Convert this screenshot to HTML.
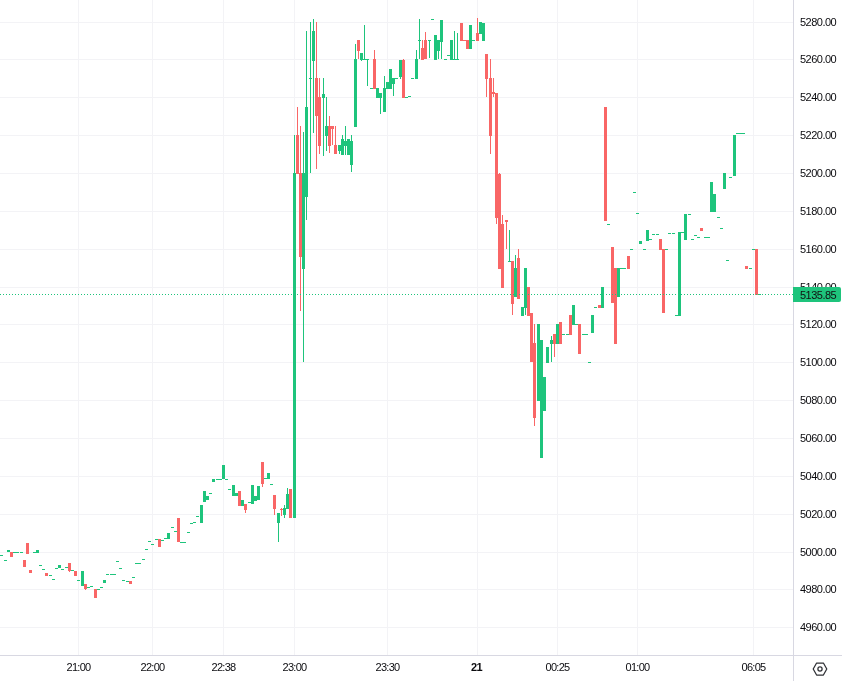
<!DOCTYPE html>
<html><head><meta charset="utf-8"><style>
html,body{-webkit-font-smoothing:antialiased;margin:0;padding:0;background:#fff;width:842px;height:681px;overflow:hidden;position:relative;font-family:"Liberation Sans",sans-serif;}
.pl{will-change:transform;letter-spacing:-0.52px;position:absolute;left:800.4px;width:40px;height:14px;line-height:14px;font-size:11px;color:#0b0b0f;white-space:nowrap}
.tl{will-change:transform;position:absolute;top:660px;width:61px;text-align:center;height:14px;line-height:14px;font-size:11px;color:#0b0b0f;letter-spacing:-0.7px;white-space:nowrap}
.b{font-weight:bold;letter-spacing:-0.5px}
.cp{position:absolute;left:793px;top:287px;width:48px;height:15px;background:#1ec47c;border-radius:0 2px 2px 0}
.cpt{will-change:transform;letter-spacing:-0.52px;position:absolute;left:800.4px;top:287.5px;height:15px;line-height:15px;font-size:11px;color:#111;white-space:nowrap}
</style></head><body>
<svg width="842" height="681" shape-rendering="crispEdges" style="position:absolute;left:0;top:0"><g fill="#f3f3f6"><rect x="0" y="22" width="793" height="1"/><rect x="0" y="59" width="793" height="1"/><rect x="0" y="97" width="793" height="1"/><rect x="0" y="135" width="793" height="1"/><rect x="0" y="173" width="793" height="1"/><rect x="0" y="211" width="793" height="1"/><rect x="0" y="249" width="793" height="1"/><rect x="0" y="287" width="793" height="1"/><rect x="0" y="324" width="793" height="1"/><rect x="0" y="362" width="793" height="1"/><rect x="0" y="400" width="793" height="1"/><rect x="0" y="438" width="793" height="1"/><rect x="0" y="476" width="793" height="1"/><rect x="0" y="514" width="793" height="1"/><rect x="0" y="552" width="793" height="1"/><rect x="0" y="589" width="793" height="1"/><rect x="0" y="627" width="793" height="1"/><rect x="78" y="0" width="1" height="655"/><rect x="152" y="0" width="1" height="655"/><rect x="223" y="0" width="1" height="655"/><rect x="294" y="0" width="1" height="655"/><rect x="387" y="0" width="1" height="655"/><rect x="477" y="0" width="1" height="655"/><rect x="557" y="0" width="1" height="655"/><rect x="637" y="0" width="1" height="655"/><rect x="753" y="0" width="1" height="655"/></g><g fill="#1ec47c"><rect x="0" y="555" width="3" height="1"/><rect x="4" y="560" width="3" height="1"/><rect x="7" y="550" width="3" height="2"/><rect x="13" y="552" width="3" height="1"/><rect x="16" y="552" width="3" height="1"/><rect x="20" y="552" width="3" height="1"/><rect x="33" y="552" width="3" height="1"/><rect x="36" y="550" width="3" height="3"/><rect x="39" y="565" width="3" height="1"/><rect x="42" y="569" width="3" height="1"/><rect x="49" y="575" width="3" height="1"/><rect x="52" y="579" width="3" height="1"/><rect x="55" y="568" width="3" height="1"/><rect x="58" y="565" width="3" height="3"/><rect x="61" y="569" width="3" height="1"/><rect x="65" y="567" width="3" height="1"/><rect x="71" y="570" width="3" height="1"/><rect x="77" y="580" width="3" height="1"/><rect x="81" y="571" width="3" height="15"/><rect x="87" y="587" width="3" height="1"/><rect x="90" y="586" width="3" height="1"/><rect x="97" y="589" width="3" height="1"/><rect x="100" y="587" width="3" height="1"/><rect x="103" y="580" width="3" height="3"/><rect x="106" y="574" width="3" height="1"/><rect x="110" y="574" width="3" height="1"/><rect x="113" y="574" width="3" height="1"/><rect x="116" y="561" width="3" height="1"/><rect x="119" y="568" width="3" height="1"/><rect x="122" y="580" width="3" height="1"/><rect x="126" y="581" width="3" height="1"/><rect x="132" y="577" width="3" height="1"/><rect x="135" y="563" width="3" height="1"/><rect x="138" y="563" width="3" height="1"/><rect x="142" y="559" width="3" height="1"/><rect x="145" y="549" width="3" height="1"/><rect x="148" y="541" width="3" height="1"/><rect x="151" y="544" width="3" height="1"/><rect x="155" y="539" width="3" height="1"/><rect x="161" y="540" width="3" height="1"/><rect x="164" y="538" width="3" height="1"/><rect x="167" y="533" width="3" height="6"/><rect x="171" y="527" width="3" height="1"/><rect x="174" y="531" width="3" height="1"/><rect x="180" y="542" width="3" height="1"/><rect x="183" y="542" width="3" height="1"/><rect x="187" y="532" width="3" height="1"/><rect x="190" y="523" width="3" height="1"/><rect x="193" y="522" width="3" height="1"/><rect x="196" y="516" width="3" height="1"/><rect x="200" y="505" width="3" height="18"/><rect x="203" y="491" width="3" height="11"/><rect x="206" y="496" width="3" height="4"/><rect x="209" y="493" width="3" height="1"/><rect x="212" y="479" width="3" height="3"/><rect x="216" y="479" width="3" height="1"/><rect x="219" y="479" width="3" height="1"/><rect x="222" y="465" width="3" height="14"/><rect x="225" y="479" width="3" height="1"/><rect x="228" y="489" width="3" height="1"/><rect x="232" y="485" width="3" height="11"/><rect x="235" y="493" width="3" height="3"/><rect x="241" y="500" width="3" height="6"/><rect x="248" y="502" width="3" height="1"/><rect x="251" y="485" width="3" height="19"/><rect x="254" y="496" width="3" height="5"/><rect x="257" y="486" width="3" height="14"/><rect x="264" y="478" width="3" height="1"/><rect x="267" y="473" width="3" height="6"/><rect x="270" y="484" width="3" height="1"/><rect x="277" y="513" width="3" height="10"/><rect x="278" y="523" width="1" height="19"/><rect x="283" y="508" width="3" height="7"/><rect x="284" y="505" width="1" height="3"/><rect x="284" y="515" width="1" height="3"/><rect x="286" y="494" width="3" height="15"/><rect x="287" y="488" width="1" height="6"/><rect x="293" y="173" width="3" height="345"/><rect x="294" y="135" width="1" height="38"/><rect x="302" y="173" width="3" height="96"/><rect x="303" y="132" width="1" height="41"/><rect x="303" y="269" width="1" height="93"/><rect x="305" y="107" width="3" height="90"/><rect x="306" y="31" width="1" height="76"/><rect x="306" y="197" width="1" height="23"/><rect x="309" y="78" width="3" height="1"/><rect x="310" y="22" width="1" height="56"/><rect x="310" y="79" width="1" height="94"/><rect x="312" y="31" width="3" height="30"/><rect x="313" y="19" width="1" height="12"/><rect x="313" y="61" width="1" height="72"/><rect x="322" y="94" width="3" height="4"/><rect x="323" y="78" width="1" height="16"/><rect x="323" y="98" width="1" height="58"/><rect x="325" y="126" width="3" height="10"/><rect x="326" y="97" width="1" height="29"/><rect x="326" y="136" width="1" height="15"/><rect x="338" y="145" width="3" height="6"/><rect x="339" y="151" width="1" height="3"/><rect x="341" y="139" width="3" height="16"/><rect x="342" y="135" width="1" height="4"/><rect x="344" y="141" width="3" height="5"/><rect x="345" y="126" width="1" height="15"/><rect x="345" y="146" width="1" height="9"/><rect x="347" y="139" width="3" height="16"/><rect x="350" y="141" width="3" height="24"/><rect x="351" y="135" width="1" height="6"/><rect x="351" y="165" width="1" height="7"/><rect x="354" y="59" width="3" height="68"/><rect x="355" y="44" width="1" height="15"/><rect x="360" y="53" width="3" height="7"/><rect x="361" y="60" width="1" height="1"/><rect x="363" y="59" width="3" height="1"/><rect x="364" y="25" width="1" height="34"/><rect x="366" y="59" width="3" height="1"/><rect x="367" y="60" width="1" height="26"/><rect x="370" y="88" width="3" height="1"/><rect x="376" y="88" width="3" height="10"/><rect x="379" y="93" width="3" height="5"/><rect x="380" y="98" width="1" height="16"/><rect x="383" y="88" width="3" height="24"/><rect x="384" y="76" width="1" height="12"/><rect x="386" y="82" width="3" height="7"/><rect x="389" y="69" width="3" height="20"/><rect x="392" y="78" width="3" height="6"/><rect x="393" y="84" width="1" height="12"/><rect x="395" y="78" width="3" height="1"/><rect x="399" y="60" width="3" height="17"/><rect x="400" y="77" width="1" height="2"/><rect x="405" y="97" width="3" height="1"/><rect x="408" y="96" width="3" height="1"/><rect x="411" y="78" width="3" height="1"/><rect x="415" y="59" width="3" height="20"/><rect x="416" y="50" width="1" height="9"/><rect x="418" y="40" width="3" height="1"/><rect x="419" y="19" width="1" height="21"/><rect x="419" y="41" width="1" height="18"/><rect x="428" y="40" width="3" height="1"/><rect x="429" y="41" width="1" height="17"/><rect x="431" y="19" width="3" height="1"/><rect x="434" y="35" width="3" height="25"/><rect x="437" y="40" width="3" height="11"/><rect x="438" y="51" width="1" height="8"/><rect x="440" y="20" width="3" height="22"/><rect x="441" y="42" width="1" height="17"/><rect x="444" y="59" width="3" height="1"/><rect x="447" y="55" width="3" height="1"/><rect x="450" y="40" width="3" height="20"/><rect x="453" y="59" width="3" height="1"/><rect x="454" y="31" width="1" height="28"/><rect x="456" y="59" width="3" height="1"/><rect x="457" y="33" width="1" height="26"/><rect x="469" y="25" width="3" height="24"/><rect x="472" y="40" width="3" height="1"/><rect x="479" y="22" width="3" height="12"/><rect x="482" y="23" width="3" height="18"/><rect x="508" y="261" width="3" height="1"/><rect x="509" y="230" width="1" height="31"/><rect x="514" y="268" width="3" height="29"/><rect x="515" y="255" width="1" height="13"/><rect x="521" y="307" width="3" height="9"/><rect x="524" y="268" width="3" height="40"/><rect x="525" y="308" width="1" height="7"/><rect x="537" y="324" width="3" height="77"/><rect x="540" y="340" width="3" height="118"/><rect x="543" y="377" width="3" height="34"/><rect x="546" y="347" width="3" height="16"/><rect x="550" y="340" width="3" height="4"/><rect x="551" y="336" width="1" height="4"/><rect x="551" y="344" width="1" height="18"/><rect x="556" y="324" width="3" height="20"/><rect x="562" y="334" width="3" height="1"/><rect x="566" y="334" width="3" height="1"/><rect x="572" y="305" width="3" height="20"/><rect x="575" y="324" width="3" height="1"/><rect x="582" y="334" width="3" height="1"/><rect x="585" y="334" width="3" height="1"/><rect x="588" y="362" width="3" height="1"/><rect x="591" y="315" width="3" height="18"/><rect x="594" y="307" width="3" height="1"/><rect x="601" y="287" width="3" height="21"/><rect x="607" y="224" width="3" height="1"/><rect x="617" y="268" width="3" height="29"/><rect x="620" y="268" width="3" height="1"/><rect x="623" y="268" width="3" height="1"/><rect x="630" y="249" width="3" height="1"/><rect x="633" y="192" width="3" height="1"/><rect x="636" y="213" width="3" height="1"/><rect x="639" y="241" width="3" height="3"/><rect x="643" y="249" width="3" height="1"/><rect x="646" y="230" width="3" height="11"/><rect x="649" y="239" width="3" height="1"/><rect x="652" y="234" width="3" height="1"/><rect x="656" y="234" width="3" height="1"/><rect x="665" y="249" width="3" height="1"/><rect x="668" y="233" width="3" height="1"/><rect x="672" y="233" width="3" height="1"/><rect x="675" y="315" width="3" height="1"/><rect x="678" y="232" width="3" height="84"/><rect x="681" y="232" width="3" height="1"/><rect x="684" y="214" width="3" height="26"/><rect x="688" y="214" width="3" height="1"/><rect x="691" y="239" width="3" height="1"/><rect x="694" y="235" width="3" height="1"/><rect x="697" y="237" width="3" height="1"/><rect x="704" y="237" width="3" height="1"/><rect x="707" y="237" width="3" height="1"/><rect x="710" y="182" width="3" height="30"/><rect x="713" y="194" width="3" height="18"/><rect x="717" y="217" width="3" height="1"/><rect x="720" y="228" width="3" height="1"/><rect x="723" y="173" width="3" height="16"/><rect x="726" y="260" width="3" height="1"/><rect x="729" y="177" width="3" height="1"/><rect x="733" y="135" width="3" height="41"/><rect x="736" y="133" width="3" height="1"/><rect x="739" y="133" width="3" height="1"/><rect x="742" y="133" width="3" height="1"/><rect x="749" y="268" width="3" height="1"/><rect x="752" y="249" width="3" height="1"/><rect x="758" y="294" width="3" height="1"/></g><g fill="#f96666"><rect x="10" y="552" width="3" height="5"/><rect x="23" y="560" width="3" height="7"/><rect x="26" y="543" width="3" height="11"/><rect x="29" y="570" width="3" height="3"/><rect x="45" y="573" width="3" height="3"/><rect x="68" y="563" width="3" height="8"/><rect x="69" y="571" width="1" height="1"/><rect x="74" y="571" width="3" height="5"/><rect x="84" y="584" width="3" height="5"/><rect x="85" y="589" width="1" height="1"/><rect x="94" y="589" width="3" height="9"/><rect x="129" y="581" width="3" height="3"/><rect x="158" y="539" width="3" height="8"/><rect x="177" y="518" width="3" height="24"/><rect x="238" y="491" width="3" height="15"/><rect x="244" y="504" width="3" height="6"/><rect x="245" y="510" width="1" height="3"/><rect x="261" y="462" width="3" height="22"/><rect x="262" y="484" width="1" height="3"/><rect x="273" y="495" width="3" height="14"/><rect x="274" y="509" width="1" height="6"/><rect x="280" y="509" width="3" height="1"/><rect x="281" y="508" width="1" height="1"/><rect x="281" y="510" width="1" height="6"/><rect x="289" y="489" width="3" height="29"/><rect x="296" y="135" width="3" height="39"/><rect x="297" y="107" width="1" height="28"/><rect x="299" y="173" width="3" height="84"/><rect x="300" y="126" width="1" height="47"/><rect x="300" y="257" width="1" height="54"/><rect x="315" y="78" width="3" height="38"/><rect x="316" y="22" width="1" height="56"/><rect x="316" y="116" width="1" height="53"/><rect x="318" y="97" width="3" height="49"/><rect x="319" y="78" width="1" height="19"/><rect x="319" y="146" width="1" height="8"/><rect x="328" y="126" width="3" height="20"/><rect x="329" y="116" width="1" height="10"/><rect x="329" y="146" width="1" height="7"/><rect x="331" y="126" width="3" height="3"/><rect x="332" y="129" width="1" height="16"/><rect x="334" y="145" width="3" height="9"/><rect x="335" y="126" width="1" height="19"/><rect x="357" y="40" width="3" height="11"/><rect x="358" y="51" width="1" height="8"/><rect x="373" y="59" width="3" height="30"/><rect x="374" y="50" width="1" height="9"/><rect x="402" y="60" width="3" height="38"/><rect x="403" y="59" width="1" height="1"/><rect x="421" y="48" width="3" height="12"/><rect x="422" y="40" width="1" height="8"/><rect x="424" y="40" width="3" height="19"/><rect x="425" y="32" width="1" height="8"/><rect x="460" y="23" width="3" height="18"/><rect x="463" y="40" width="3" height="1"/><rect x="466" y="40" width="3" height="9"/><rect x="476" y="33" width="3" height="8"/><rect x="477" y="18" width="1" height="15"/><rect x="485" y="54" width="3" height="25"/><rect x="486" y="79" width="1" height="18"/><rect x="489" y="78" width="3" height="58"/><rect x="490" y="59" width="1" height="19"/><rect x="490" y="136" width="1" height="18"/><rect x="492" y="92" width="3" height="2"/><rect x="493" y="78" width="1" height="14"/><rect x="493" y="94" width="1" height="3"/><rect x="495" y="93" width="3" height="125"/><rect x="496" y="218" width="1" height="6"/><rect x="498" y="174" width="3" height="95"/><rect x="499" y="173" width="1" height="1"/><rect x="501" y="224" width="3" height="64"/><rect x="502" y="215" width="1" height="9"/><rect x="505" y="220" width="3" height="2"/><rect x="506" y="222" width="1" height="27"/><rect x="511" y="261" width="3" height="43"/><rect x="512" y="304" width="1" height="11"/><rect x="517" y="258" width="3" height="41"/><rect x="518" y="249" width="1" height="9"/><rect x="527" y="287" width="3" height="29"/><rect x="530" y="313" width="3" height="49"/><rect x="533" y="343" width="3" height="75"/><rect x="534" y="324" width="1" height="19"/><rect x="534" y="418" width="1" height="8"/><rect x="553" y="334" width="3" height="10"/><rect x="554" y="344" width="1" height="13"/><rect x="559" y="322" width="3" height="22"/><rect x="569" y="315" width="3" height="20"/><rect x="578" y="324" width="3" height="30"/><rect x="598" y="305" width="3" height="3"/><rect x="604" y="107" width="3" height="114"/><rect x="611" y="247" width="3" height="56"/><rect x="614" y="268" width="3" height="76"/><rect x="627" y="256" width="3" height="13"/><rect x="659" y="239" width="3" height="11"/><rect x="662" y="249" width="3" height="64"/><rect x="700" y="228" width="3" height="3"/><rect x="745" y="266" width="3" height="3"/><rect x="755" y="249" width="3" height="46"/></g><g fill="#1ec47c"><rect x="0" y="294" width="1" height="1"/><rect x="3" y="294" width="1" height="1"/><rect x="6" y="294" width="1" height="1"/><rect x="9" y="294" width="1" height="1"/><rect x="12" y="294" width="1" height="1"/><rect x="15" y="294" width="1" height="1"/><rect x="18" y="294" width="1" height="1"/><rect x="21" y="294" width="1" height="1"/><rect x="24" y="294" width="1" height="1"/><rect x="27" y="294" width="1" height="1"/><rect x="30" y="294" width="1" height="1"/><rect x="33" y="294" width="1" height="1"/><rect x="36" y="294" width="1" height="1"/><rect x="39" y="294" width="1" height="1"/><rect x="42" y="294" width="1" height="1"/><rect x="45" y="294" width="1" height="1"/><rect x="48" y="294" width="1" height="1"/><rect x="51" y="294" width="1" height="1"/><rect x="54" y="294" width="1" height="1"/><rect x="57" y="294" width="1" height="1"/><rect x="60" y="294" width="1" height="1"/><rect x="63" y="294" width="1" height="1"/><rect x="66" y="294" width="1" height="1"/><rect x="69" y="294" width="1" height="1"/><rect x="72" y="294" width="1" height="1"/><rect x="75" y="294" width="1" height="1"/><rect x="78" y="294" width="1" height="1"/><rect x="81" y="294" width="1" height="1"/><rect x="84" y="294" width="1" height="1"/><rect x="87" y="294" width="1" height="1"/><rect x="90" y="294" width="1" height="1"/><rect x="93" y="294" width="1" height="1"/><rect x="96" y="294" width="1" height="1"/><rect x="99" y="294" width="1" height="1"/><rect x="102" y="294" width="1" height="1"/><rect x="105" y="294" width="1" height="1"/><rect x="108" y="294" width="1" height="1"/><rect x="111" y="294" width="1" height="1"/><rect x="114" y="294" width="1" height="1"/><rect x="117" y="294" width="1" height="1"/><rect x="120" y="294" width="1" height="1"/><rect x="123" y="294" width="1" height="1"/><rect x="126" y="294" width="1" height="1"/><rect x="129" y="294" width="1" height="1"/><rect x="132" y="294" width="1" height="1"/><rect x="135" y="294" width="1" height="1"/><rect x="138" y="294" width="1" height="1"/><rect x="141" y="294" width="1" height="1"/><rect x="144" y="294" width="1" height="1"/><rect x="147" y="294" width="1" height="1"/><rect x="150" y="294" width="1" height="1"/><rect x="153" y="294" width="1" height="1"/><rect x="156" y="294" width="1" height="1"/><rect x="159" y="294" width="1" height="1"/><rect x="162" y="294" width="1" height="1"/><rect x="165" y="294" width="1" height="1"/><rect x="168" y="294" width="1" height="1"/><rect x="171" y="294" width="1" height="1"/><rect x="174" y="294" width="1" height="1"/><rect x="177" y="294" width="1" height="1"/><rect x="180" y="294" width="1" height="1"/><rect x="183" y="294" width="1" height="1"/><rect x="186" y="294" width="1" height="1"/><rect x="189" y="294" width="1" height="1"/><rect x="192" y="294" width="1" height="1"/><rect x="195" y="294" width="1" height="1"/><rect x="198" y="294" width="1" height="1"/><rect x="201" y="294" width="1" height="1"/><rect x="204" y="294" width="1" height="1"/><rect x="207" y="294" width="1" height="1"/><rect x="210" y="294" width="1" height="1"/><rect x="213" y="294" width="1" height="1"/><rect x="216" y="294" width="1" height="1"/><rect x="219" y="294" width="1" height="1"/><rect x="222" y="294" width="1" height="1"/><rect x="225" y="294" width="1" height="1"/><rect x="228" y="294" width="1" height="1"/><rect x="231" y="294" width="1" height="1"/><rect x="234" y="294" width="1" height="1"/><rect x="237" y="294" width="1" height="1"/><rect x="240" y="294" width="1" height="1"/><rect x="243" y="294" width="1" height="1"/><rect x="246" y="294" width="1" height="1"/><rect x="249" y="294" width="1" height="1"/><rect x="252" y="294" width="1" height="1"/><rect x="255" y="294" width="1" height="1"/><rect x="258" y="294" width="1" height="1"/><rect x="261" y="294" width="1" height="1"/><rect x="264" y="294" width="1" height="1"/><rect x="267" y="294" width="1" height="1"/><rect x="270" y="294" width="1" height="1"/><rect x="273" y="294" width="1" height="1"/><rect x="276" y="294" width="1" height="1"/><rect x="279" y="294" width="1" height="1"/><rect x="282" y="294" width="1" height="1"/><rect x="285" y="294" width="1" height="1"/><rect x="288" y="294" width="1" height="1"/><rect x="291" y="294" width="1" height="1"/><rect x="294" y="294" width="1" height="1"/><rect x="297" y="294" width="1" height="1"/><rect x="300" y="294" width="1" height="1"/><rect x="303" y="294" width="1" height="1"/><rect x="306" y="294" width="1" height="1"/><rect x="309" y="294" width="1" height="1"/><rect x="312" y="294" width="1" height="1"/><rect x="315" y="294" width="1" height="1"/><rect x="318" y="294" width="1" height="1"/><rect x="321" y="294" width="1" height="1"/><rect x="324" y="294" width="1" height="1"/><rect x="327" y="294" width="1" height="1"/><rect x="330" y="294" width="1" height="1"/><rect x="333" y="294" width="1" height="1"/><rect x="336" y="294" width="1" height="1"/><rect x="339" y="294" width="1" height="1"/><rect x="342" y="294" width="1" height="1"/><rect x="345" y="294" width="1" height="1"/><rect x="348" y="294" width="1" height="1"/><rect x="351" y="294" width="1" height="1"/><rect x="354" y="294" width="1" height="1"/><rect x="357" y="294" width="1" height="1"/><rect x="360" y="294" width="1" height="1"/><rect x="363" y="294" width="1" height="1"/><rect x="366" y="294" width="1" height="1"/><rect x="369" y="294" width="1" height="1"/><rect x="372" y="294" width="1" height="1"/><rect x="375" y="294" width="1" height="1"/><rect x="378" y="294" width="1" height="1"/><rect x="381" y="294" width="1" height="1"/><rect x="384" y="294" width="1" height="1"/><rect x="387" y="294" width="1" height="1"/><rect x="390" y="294" width="1" height="1"/><rect x="393" y="294" width="1" height="1"/><rect x="396" y="294" width="1" height="1"/><rect x="399" y="294" width="1" height="1"/><rect x="402" y="294" width="1" height="1"/><rect x="405" y="294" width="1" height="1"/><rect x="408" y="294" width="1" height="1"/><rect x="411" y="294" width="1" height="1"/><rect x="414" y="294" width="1" height="1"/><rect x="417" y="294" width="1" height="1"/><rect x="420" y="294" width="1" height="1"/><rect x="423" y="294" width="1" height="1"/><rect x="426" y="294" width="1" height="1"/><rect x="429" y="294" width="1" height="1"/><rect x="432" y="294" width="1" height="1"/><rect x="435" y="294" width="1" height="1"/><rect x="438" y="294" width="1" height="1"/><rect x="441" y="294" width="1" height="1"/><rect x="444" y="294" width="1" height="1"/><rect x="447" y="294" width="1" height="1"/><rect x="450" y="294" width="1" height="1"/><rect x="453" y="294" width="1" height="1"/><rect x="456" y="294" width="1" height="1"/><rect x="459" y="294" width="1" height="1"/><rect x="462" y="294" width="1" height="1"/><rect x="465" y="294" width="1" height="1"/><rect x="468" y="294" width="1" height="1"/><rect x="471" y="294" width="1" height="1"/><rect x="474" y="294" width="1" height="1"/><rect x="477" y="294" width="1" height="1"/><rect x="480" y="294" width="1" height="1"/><rect x="483" y="294" width="1" height="1"/><rect x="486" y="294" width="1" height="1"/><rect x="489" y="294" width="1" height="1"/><rect x="492" y="294" width="1" height="1"/><rect x="495" y="294" width="1" height="1"/><rect x="498" y="294" width="1" height="1"/><rect x="501" y="294" width="1" height="1"/><rect x="504" y="294" width="1" height="1"/><rect x="507" y="294" width="1" height="1"/><rect x="510" y="294" width="1" height="1"/><rect x="513" y="294" width="1" height="1"/><rect x="516" y="294" width="1" height="1"/><rect x="519" y="294" width="1" height="1"/><rect x="522" y="294" width="1" height="1"/><rect x="525" y="294" width="1" height="1"/><rect x="528" y="294" width="1" height="1"/><rect x="531" y="294" width="1" height="1"/><rect x="534" y="294" width="1" height="1"/><rect x="537" y="294" width="1" height="1"/><rect x="540" y="294" width="1" height="1"/><rect x="543" y="294" width="1" height="1"/><rect x="546" y="294" width="1" height="1"/><rect x="549" y="294" width="1" height="1"/><rect x="552" y="294" width="1" height="1"/><rect x="555" y="294" width="1" height="1"/><rect x="558" y="294" width="1" height="1"/><rect x="561" y="294" width="1" height="1"/><rect x="564" y="294" width="1" height="1"/><rect x="567" y="294" width="1" height="1"/><rect x="570" y="294" width="1" height="1"/><rect x="573" y="294" width="1" height="1"/><rect x="576" y="294" width="1" height="1"/><rect x="579" y="294" width="1" height="1"/><rect x="582" y="294" width="1" height="1"/><rect x="585" y="294" width="1" height="1"/><rect x="588" y="294" width="1" height="1"/><rect x="591" y="294" width="1" height="1"/><rect x="594" y="294" width="1" height="1"/><rect x="597" y="294" width="1" height="1"/><rect x="600" y="294" width="1" height="1"/><rect x="603" y="294" width="1" height="1"/><rect x="606" y="294" width="1" height="1"/><rect x="609" y="294" width="1" height="1"/><rect x="612" y="294" width="1" height="1"/><rect x="615" y="294" width="1" height="1"/><rect x="618" y="294" width="1" height="1"/><rect x="621" y="294" width="1" height="1"/><rect x="624" y="294" width="1" height="1"/><rect x="627" y="294" width="1" height="1"/><rect x="630" y="294" width="1" height="1"/><rect x="633" y="294" width="1" height="1"/><rect x="636" y="294" width="1" height="1"/><rect x="639" y="294" width="1" height="1"/><rect x="642" y="294" width="1" height="1"/><rect x="645" y="294" width="1" height="1"/><rect x="648" y="294" width="1" height="1"/><rect x="651" y="294" width="1" height="1"/><rect x="654" y="294" width="1" height="1"/><rect x="657" y="294" width="1" height="1"/><rect x="660" y="294" width="1" height="1"/><rect x="663" y="294" width="1" height="1"/><rect x="666" y="294" width="1" height="1"/><rect x="669" y="294" width="1" height="1"/><rect x="672" y="294" width="1" height="1"/><rect x="675" y="294" width="1" height="1"/><rect x="678" y="294" width="1" height="1"/><rect x="681" y="294" width="1" height="1"/><rect x="684" y="294" width="1" height="1"/><rect x="687" y="294" width="1" height="1"/><rect x="690" y="294" width="1" height="1"/><rect x="693" y="294" width="1" height="1"/><rect x="696" y="294" width="1" height="1"/><rect x="699" y="294" width="1" height="1"/><rect x="702" y="294" width="1" height="1"/><rect x="705" y="294" width="1" height="1"/><rect x="708" y="294" width="1" height="1"/><rect x="711" y="294" width="1" height="1"/><rect x="714" y="294" width="1" height="1"/><rect x="717" y="294" width="1" height="1"/><rect x="720" y="294" width="1" height="1"/><rect x="723" y="294" width="1" height="1"/><rect x="726" y="294" width="1" height="1"/><rect x="729" y="294" width="1" height="1"/><rect x="732" y="294" width="1" height="1"/><rect x="735" y="294" width="1" height="1"/><rect x="738" y="294" width="1" height="1"/><rect x="741" y="294" width="1" height="1"/><rect x="744" y="294" width="1" height="1"/><rect x="747" y="294" width="1" height="1"/><rect x="750" y="294" width="1" height="1"/><rect x="753" y="294" width="1" height="1"/><rect x="756" y="294" width="1" height="1"/><rect x="759" y="294" width="1" height="1"/><rect x="762" y="294" width="1" height="1"/><rect x="765" y="294" width="1" height="1"/><rect x="768" y="294" width="1" height="1"/><rect x="771" y="294" width="1" height="1"/><rect x="774" y="294" width="1" height="1"/><rect x="777" y="294" width="1" height="1"/><rect x="780" y="294" width="1" height="1"/><rect x="783" y="294" width="1" height="1"/><rect x="786" y="294" width="1" height="1"/><rect x="789" y="294" width="1" height="1"/><rect x="792" y="294" width="1" height="1"/></g><rect x="793" y="0" width="1" height="681" fill="#d8d8e2"/><rect x="0" y="655" width="842" height="1" fill="#d8d8e2"/></svg>
<div class="pl" style="top:15px">5280.00</div><div class="pl" style="top:52px">5260.00</div><div class="pl" style="top:90px">5240.00</div><div class="pl" style="top:128px">5220.00</div><div class="pl" style="top:166px">5200.00</div><div class="pl" style="top:204px">5180.00</div><div class="pl" style="top:242px">5160.00</div><div class="pl" style="top:280px">5140.00</div><div class="pl" style="top:317px">5120.00</div><div class="pl" style="top:355px">5100.00</div><div class="pl" style="top:393px">5080.00</div><div class="pl" style="top:431px">5060.00</div><div class="pl" style="top:469px">5040.00</div><div class="pl" style="top:507px">5020.00</div><div class="pl" style="top:545px">5000.00</div><div class="pl" style="top:582px">4980.00</div><div class="pl" style="top:620px">4960.00</div>
<div class="tl" style="left:47.7px">21:00</div><div class="tl" style="left:121.7px">22:00</div><div class="tl" style="left:192.7px">22:38</div><div class="tl" style="left:263.7px">23:00</div><div class="tl" style="left:356.7px">23:30</div><div class="tl b" style="left:445.5px">21</div><div class="tl" style="left:526.7px">00:25</div><div class="tl" style="left:606.7px">01:00</div><div class="tl" style="left:722.7px">06:05</div>
<div class="cp"></div><div class="cpt">5135.85</div>
<svg width="30" height="26" style="position:absolute;left:805px;top:655px" viewBox="805 655 30 26"><path d="M816.6 663 L823.4 663 L826.8 669 L823.4 675 L816.6 675 L813.2 669 Z" fill="none" stroke="#2f3035" stroke-width="1.25" stroke-linejoin="round"/><circle cx="820" cy="669" r="2.1" fill="none" stroke="#2f3035" stroke-width="1.25"/></svg>
</body></html>
